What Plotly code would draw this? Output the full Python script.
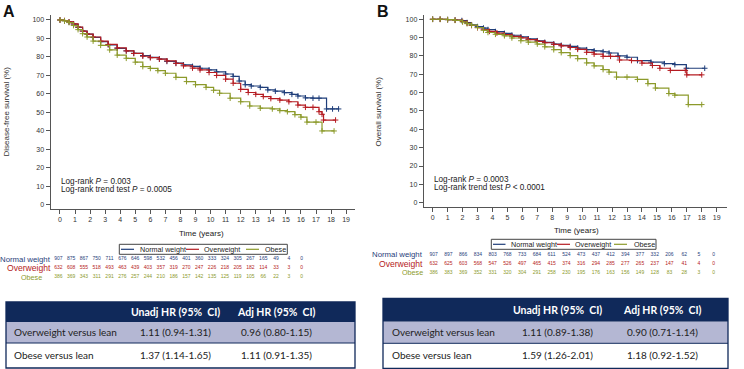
import plotly.graph_objects as go

W, H = 744, 369
def X(px): return px / W
def Y(py): return 1 - py / H

NAVY = "#1f3e7a"
RED = "#b51c22"
OLIVE = "#8c9a2b"
TNAVY = "#10295a"
LAV = "#b4b7d3"
FONT = "Arial, Liberation Sans, sans-serif"
TFONT = "Lato, Open Sans, sans-serif"

groups = ["Normal weight", "Overweight", "Obese"]
colors = [NAVY, RED, OLIVE]
years = list(range(0, 20))

# ---------- Panel A: disease-free survival ----------
a_norm_t = [0, 0.3, 0.6, 0.9, 1.2, 1.5, 1.8, 2.2, 2.7, 3.2, 3.8, 4.4, 4.9, 5.5, 6.0, 6.6, 7.1, 7.7, 8.2, 8.8,
            9.3, 9.9, 10.4, 11.0, 11.5, 11.9, 12.3, 12.7, 13.3, 13.8, 14.3, 14.9, 15.4, 15.8, 16.3, 16.8, 17.2, 17.7, 18.1, 18.5]
a_norm_s = [100, 99.6, 98.9, 97.8, 96.0, 94.0, 92.4, 90.6, 88.3, 86.6, 84.7, 83.3, 82.0, 80.8, 79.8, 78.9, 77.6, 76.7, 75.7, 74.9,
            73.9, 73.0, 72.0, 70.8, 69.5, 67.0, 65.0, 64.3, 63.6, 62.2, 61.5, 60.7, 59.8, 58.9, 57.9, 57.7, 57.7, 51.9, 51.9, 51.9]
a_over_t = [0, 0.3, 0.6, 0.9, 1.2, 1.5, 1.8, 2.2, 2.7, 3.2, 3.8, 4.4, 4.9, 5.5, 6.0, 6.6, 7.1, 7.7, 8.2, 8.8,
            9.3, 9.9, 10.4, 11.0, 11.5, 12.0, 12.5, 13.0, 13.5, 14.0, 14.6, 15.2, 15.8, 16.3, 16.8, 17.2, 17.4, 17.5, 18.3]
a_over_s = [100, 99.7, 99.0, 97.9, 96.2, 94.0, 92.4, 90.8, 88.6, 86.8, 84.9, 83.3, 81.9, 80.4, 79.6, 78.8, 77.9, 76.5, 75.2, 74.0,
            73.0, 71.6, 70.0, 68.0, 65.8, 62.5, 60.8, 59.8, 58.6, 57.5, 56.7, 55.8, 54.0, 52.8, 52.8, 50.4, 49.0, 45.9, 45.9]
a_obese_t = [0, 0.3, 0.6, 0.9, 1.2, 1.5, 1.8, 2.2, 2.7, 3.3, 3.8, 4.4, 5.0, 5.5, 6.0, 6.5, 7.0, 7.7, 8.4, 9.0,
             9.7, 10.2, 10.6, 11.3, 12.0, 12.6, 13.3, 14.1, 14.6, 15.1, 15.6, 16.0, 16.4, 17.0, 17.4, 18.2]
a_obese_s = [100, 99.5, 98.6, 97.0, 94.8, 92.6, 90.8, 88.6, 86.3, 83.8, 81.0, 79.3, 77.2, 74.8, 73.8, 72.6, 71.2, 69.0, 66.7, 65.0,
             63.6, 62.0, 60.4, 57.7, 55.8, 53.5, 52.3, 51.9, 51.0, 50.4, 48.8, 47.5, 44.8, 44.8, 40.0, 40.0]

a_risk_norm = [907, 875, 867, 750, 711, 676, 646, 598, 532, 456, 401, 360, 333, 324, 305, 267, 165, 49, 4, 0]
a_risk_over = [632, 608, 555, 518, 493, 463, 439, 403, 357, 319, 270, 247, 226, 218, 205, 182, 114, 33, 3, 0]
a_risk_obese = [386, 369, 343, 311, 291, 276, 257, 244, 210, 186, 157, 142, 135, 125, 119, 105, 66, 22, 3, 0]

# ---------- Panel B: overall survival ----------
b_norm_t = [0, 0.5, 1.0, 1.5, 1.95, 2.3, 2.6, 3.0, 3.4, 3.7, 4.2, 4.8, 5.3, 5.9, 6.4, 7.0, 7.5, 8.1, 8.6, 9.2,
            9.7, 10.3, 10.8, 11.4, 11.8, 12.4, 13.0, 13.7, 14.6, 15.5, 16.2, 16.97, 18.2]
b_norm_s = [100, 100, 99.8, 99.6, 99.3, 98.2, 97.0, 96.0, 95.2, 94.4, 93.3, 92.3, 91.3, 90.4, 89.3, 88.3, 87.4, 86.5, 85.8, 85.2,
            84.3, 83.4, 82.8, 82.3, 81.6, 80.0, 79.3, 77.5, 76.6, 75.8, 75.3, 73.3, 73.3]
b_over_t = [0, 0.5, 1.0, 1.5, 2.0, 2.3, 2.6, 3.0, 3.4, 3.8, 4.3, 4.8, 5.3, 5.9, 6.4, 7.0, 7.5, 8.1, 8.6, 9.2,
            9.7, 10.3, 10.8, 11.4, 11.9, 12.5, 13.3, 14.0, 14.7, 15.2, 15.9, 16.9, 17.0, 18.0]
b_over_s = [100, 100, 99.8, 99.5, 98.8, 97.8, 96.6, 95.4, 94.3, 93.4, 92.5, 91.6, 90.7, 89.9, 88.9, 88.0, 87.2, 86.3, 85.5, 84.6,
            83.6, 82.0, 81.0, 79.8, 79.8, 77.8, 77.5, 76.1, 74.8, 73.3, 72.1, 72.1, 69.7, 69.7]
b_obese_t = [0, 0.5, 1.0, 1.5, 2.0, 2.3, 2.6, 3.0, 3.4, 3.7, 4.2, 4.8, 5.3, 5.9, 6.4, 7.0, 7.5, 8.1, 8.6, 9.2,
             9.7, 10.3, 10.8, 11.4, 11.8, 12.3, 13.0, 13.7, 14.4, 14.9, 15.8, 16.2, 17.1, 18.0]
b_obese_s = [100, 100, 99.8, 99.4, 98.5, 97.6, 96.8, 95.5, 94.0, 92.8, 91.8, 91.0, 89.8, 88.3, 87.5, 86.5, 85.0, 83.4, 81.8, 80.2,
             78.5, 76.2, 74.6, 72.6, 71.2, 68.5, 68.5, 67.2, 64.9, 62.5, 59.5, 58.6, 53.5, 53.5]

b_risk_norm = [907, 897, 866, 834, 803, 768, 733, 684, 611, 524, 473, 437, 412, 394, 377, 332, 206, 62, 5, 0]
b_risk_over = [632, 625, 603, 568, 547, 526, 497, 465, 415, 374, 316, 294, 285, 277, 265, 237, 147, 41, 4, 0]
b_risk_obese = [386, 383, 369, 352, 331, 320, 304, 291, 258, 230, 195, 176, 163, 156, 149, 128, 83, 28, 3, 0]

# ---------- HR tables ----------
hr_header = ["Unadj HR (95%&nbsp; CI)", "Adj HR (95%&nbsp; CI)"]
hr_rows = ["Overweight versus lean", "Obese versus lean"]
a_unadj = ["1.11 (0.94-1.31)", "1.37 (1.14-1.65)"]
a_adj = ["0.96 (0.80-1.15)", "1.11 (0.91-1.35)"]
b_unadj = ["1.11 (0.89-1.38)", "1.59 (1.26-2.01)"]
b_adj = ["0.90 (0.71-1.14)", "1.18 (0.92-1.52)"]

fig = go.Figure()

curves_a = [(a_norm_t, a_norm_s), (a_over_t, a_over_s), (a_obese_t, a_obese_s)]
curves_b = [(b_norm_t, b_norm_s), (b_over_t, b_over_s), (b_obese_t, b_obese_s)]
for axes, curves in [(("x", "y"), curves_a), (("x2", "y2"), curves_b)]:
    for (tt, ss), col, name in zip(curves, colors, groups):
        fig.add_trace(go.Scatter(
            x=tt, y=ss, mode="lines+markers", line=dict(shape="hv", color=col, width=1.2),
            marker=dict(symbol="cross-thin", size=4, line=dict(width=1, color=col)),
            xaxis=axes[0], yaxis=axes[1], name=name, showlegend=False))

risk_a = [a_risk_norm, a_risk_over, a_risk_obese]
risk_b = [b_risk_norm, b_risk_over, b_risk_obese]
for axes, risks in [(("x3", "y3"), risk_a), (("x4", "y4"), risk_b)]:
    for i, (vals, col) in enumerate(zip(risks, colors)):
        fig.add_trace(go.Scatter(
            x=years, y=[i] * len(years), mode="text", text=[str(v) for v in vals],
            textfont=dict(size=5, color=col, family=FONT), textposition="middle center",
            cliponaxis=False, xaxis=axes[0], yaxis=axes[1], showlegend=False, hoverinfo="skip"))

shapes = []
annotations = []
def rect(x0, y0, x1, y1, color, width, fill=None):
    d = dict(type="rect", xref="paper", yref="paper", x0=X(x0), x1=X(x1), y0=Y(y1), y1=Y(y0),
             line=dict(color=color, width=width), layer="above")
    if fill:
        d["fillcolor"] = fill
    shapes.append(d)
def hline(x0, x1, y, color, width):
    shapes.append(dict(type="line", xref="paper", yref="paper", x0=X(x0), x1=X(x1), y0=Y(y), y1=Y(y),
                       line=dict(color=color, width=width), layer="above"))
def text(x, y, s, size, color="#333", xanchor="left", bold=False, angle=0, family=FONT):
    annotations.append(dict(x=X(x), y=Y(y), xref="paper", yref="paper", text=(f"<b>{s}</b>" if bold else s),
                            showarrow=False, xanchor=xanchor, yanchor="middle", textangle=angle,
                            font=dict(size=size, color=color, family=family)))

# HR tables: (left, right, header top, header bottom, row split, bottom, label x, col2 centre, col3 centre)
def hr_table(x0, x1, yt, yh, ym, yb, lx, c2, c3, unadj, adj):
    rect(x0, yt, x1, yh, TNAVY, 0, TNAVY)
    rect(x0, yh, x1, ym, LAV, 0, LAV)
    rect(x0, ym, x1, yb, "white", 0, "white")
    rect(x0, yt, x1, yb, TNAVY, 1.3)
    hline(x0, x1, ym, TNAVY, 1)
    hy = (yt + yh) / 2
    text(c2, hy, hr_header[0], 10.5, "white", xanchor="center", bold=True, family=TFONT)
    text(c3, hy, hr_header[1], 10.5, "white", xanchor="center", bold=True, family=TFONT)
    for r, (ya, yb2) in enumerate([(yh, ym), (ym, yb)]):
        cy = (ya + yb2) / 2 - 0.5
        text(lx, cy, hr_rows[r], 10, "#222", family=TFONT)
        text(c2, cy, unadj[r], 10, "#222", xanchor="center", family=TFONT)
        text(c3, cy, adj[r], 10, "#222", xanchor="center", family=TFONT)

hr_table(6, 355, 302, 322, 343, 368, 11.5, 175, 276.7, a_unadj, a_adj)
hr_table(383, 728, 298.3, 321.7, 343.3, 368.3, 390, 557, 662, b_unadj, b_adj)

# legends (drawn as boxes)
def legend(box, items, ymid):
    rect(box[0], box[1], box[2], box[3], "#444", 1)
    for (l0, l1, tx), col, name in zip(items, colors, groups):
        hline(l0, l1, ymid, col, 1.2)
        text(tx, ymid, name, 7.2, "#222")
legend((119.3, 244.3, 287.3, 254.3), [(121, 134, 137.5), (186, 199, 202.5), (246, 259, 262.5)], 249.3)
legend((491.3, 239.3, 656, 249.3), [(493, 505.5, 509), (557, 570, 573), (614, 627, 632)], 244.3)

# panel letters, titles
text(1, 12, "A", 16, "#111", bold=True)
text(375, 12, "B", 16, "#111", bold=True)
text(5.5, 112, "Disease-free survival (%)", 8, "#333", xanchor="center", angle=-90)
text(377.5, 112, "Overall survival (%)", 8, "#333", xanchor="center", angle=-90)
text(201.5, 233, "Time (years)", 8, "#222", xanchor="center")
text(576, 230.7, "Time (years)", 8, "#222", xanchor="center")
text(59, 181.3, "Log-rank <i>P</i> = 0.003", 8.2, "#222")
text(59, 189.2, "Log-rank trend test <i>P</i> = 0.0005", 8.2, "#222")
text(432, 179.3, "Log-rank <i>P</i> = 0.0003", 8.2, "#222")
text(432, 187.2, "Log-rank trend test <i>P</i> < 0.0001", 8.2, "#222")

# number at risk row labels
text(52.5, 259, "Normal weight", 7.8, NAVY, xanchor="right")
text(52.5, 268, "Overweight", 8.6, RED, xanchor="right")
text(44, 277, "Obese", 7.2, OLIVE, xanchor="right")
text(425, 254.5, "Normal weight", 7.8, NAVY, xanchor="right")
text(425, 263.5, "Overweight", 8.6, RED, xanchor="right")
text(425, 272.5, "Obese", 7.2, OLIVE, xanchor="right")

common_x = dict(tickvals=years, ticks="outside", ticklen=4, tickwidth=1, tickcolor="#555",
                showline=True, linecolor="#555", linewidth=1, showgrid=False, zeroline=False,
                tickfont=dict(size=7, color="#333", family=FONT))
common_y = dict(tickvals=list(range(0, 101, 10)), ticks="outside", ticklen=4, tickwidth=1, tickcolor="#555",
                showline=True, linecolor="#555", linewidth=1, showgrid=False, zeroline=False,
                tickfont=dict(size=7, color="#333", family=FONT))
hidden = dict(visible=False, showgrid=False, zeroline=False)

fig.update_layout(
    width=W, height=H, margin=dict(l=0, r=0, t=0, b=0),
    paper_bgcolor="white", plot_bgcolor="white", showlegend=False,
    xaxis=dict(domain=[X(50.5), X(355)], range=[-0.63, 19.59], anchor="y", **common_x),
    yaxis=dict(domain=[Y(209), Y(15)], range=[-2.2, 102.7], anchor="x", **common_y),
    xaxis2=dict(domain=[X(423.7), X(727)], range=[-0.6, 19.69], anchor="y2", **common_x),
    yaxis2=dict(domain=[Y(206.5), Y(14.5)], range=[-2.07, 102.6], anchor="x2", **common_y),
    xaxis3=dict(domain=[X(58.3), X(301.7)], range=[0, 19], anchor="y3", **hidden),
    yaxis3=dict(domain=[Y(281.5), Y(254.5)], range=[2.5, -0.5], anchor="x3", **hidden),
    xaxis4=dict(domain=[X(433.7), X(713.7)], range=[0, 19], anchor="y4", **hidden),
    yaxis4=dict(domain=[Y(277), Y(250)], range=[2.5, -0.5], anchor="x4", **hidden),
    shapes=shapes, annotations=annotations,
)

fig.write_html("out.html", config={"displayModeBar": False},
               post_script="document.body.style.margin='0';document.body.style.overflow='hidden';")
